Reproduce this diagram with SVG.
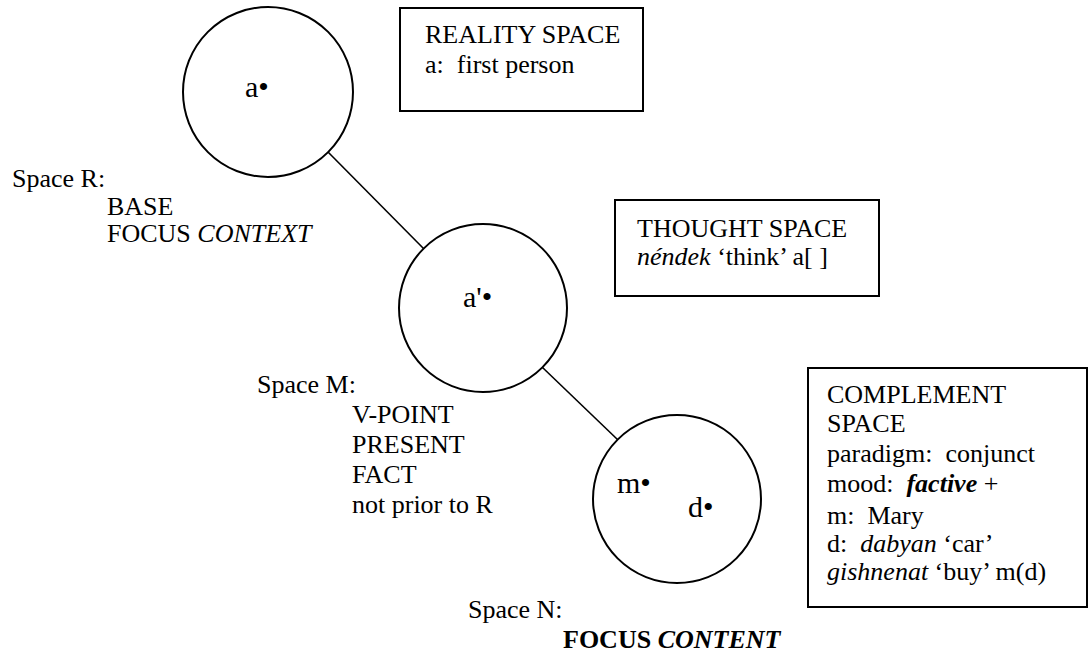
<svg xmlns="http://www.w3.org/2000/svg" width="1091" height="656" viewBox="0 0 1091 656" font-family="'Liberation Serif', 'Times New Roman', Tinos, 'DejaVu Serif', serif">
<style>
text{font-family:'Liberation Serif','Times New Roman',Tinos,'DejaVu Serif',serif;font-size:26px;fill:#000}
.lbl{font-size:30px}
.i{font-style:italic}
.b{font-weight:bold}
.shape{fill:#fff;stroke:#000;stroke-width:2}
.conn{stroke:#000;stroke-width:1.6;fill:none}
</style>
<rect width="1091" height="656" fill="#fff"/>
<g id="connectors">
<line class="conn" x1="328" y1="152" x2="424" y2="249"/>
<line class="conn" x1="542" y1="367" x2="618" y2="440"/>
</g>
<g id="spaceR">
<circle class="shape" cx="268" cy="92" r="85"/>
<text class="lbl" x="245" y="97">a•</text>
<text x="12" y="187">Space R:</text>
<text x="107" y="215">BASE</text>
<text x="107" y="242">FOCUS <tspan class="i">CONTEXT</tspan></text>
</g>
<g id="spaceM">
<circle class="shape" cx="483" cy="308" r="84"/>
<text class="lbl" x="463" y="307">a'•</text>
<text x="257" y="393">Space M:</text>
<text x="352" y="423">V-POINT</text>
<text x="352" y="453">PRESENT</text>
<text x="352" y="483">FACT</text>
<text x="352" y="513">not prior to R</text>
</g>
<g id="spaceN">
<circle class="shape" cx="677" cy="499" r="84"/>
<text class="lbl" x="617" y="493">m•</text>
<text class="lbl" x="688" y="517">d•</text>
<text x="468" y="618">Space N:</text>
<text class="b" x="563" y="648">FOCUS <tspan class="i">CONTENT</tspan></text>
</g>
<g id="reality-box">
<rect class="shape" x="400" y="8" width="243" height="103"/>
<text x="425" y="43">REALITY SPACE</text>
<text x="425" y="73" xml:space="preserve">a:  first person</text>
</g>
<g id="thought-box">
<rect class="shape" x="615" y="200" width="264" height="96"/>
<text x="637" y="237">THOUGHT SPACE</text>
<text x="637" y="265"><tspan class="i">néndek</tspan> ‘think’ a[ ]</text>
</g>
<g id="complement-box">
<rect class="shape" x="808" y="368" width="279" height="239"/>
<text x="827" y="403">COMPLEMENT</text>
<text x="827" y="432">SPACE</text>
<text x="827" y="462" xml:space="preserve">paradigm:  conjunct</text>
<text x="827" y="492" xml:space="preserve">mood:  <tspan class="i b">factive</tspan> +</text>
<text x="827" y="524" xml:space="preserve">m:  Mary</text>
<text x="827" y="552" xml:space="preserve">d:  <tspan class="i">dabyan</tspan> ‘car’</text>
<text x="827" y="580"><tspan class="i">gishnenat</tspan> ‘buy’ m(d)</text>
</g>
</svg>
